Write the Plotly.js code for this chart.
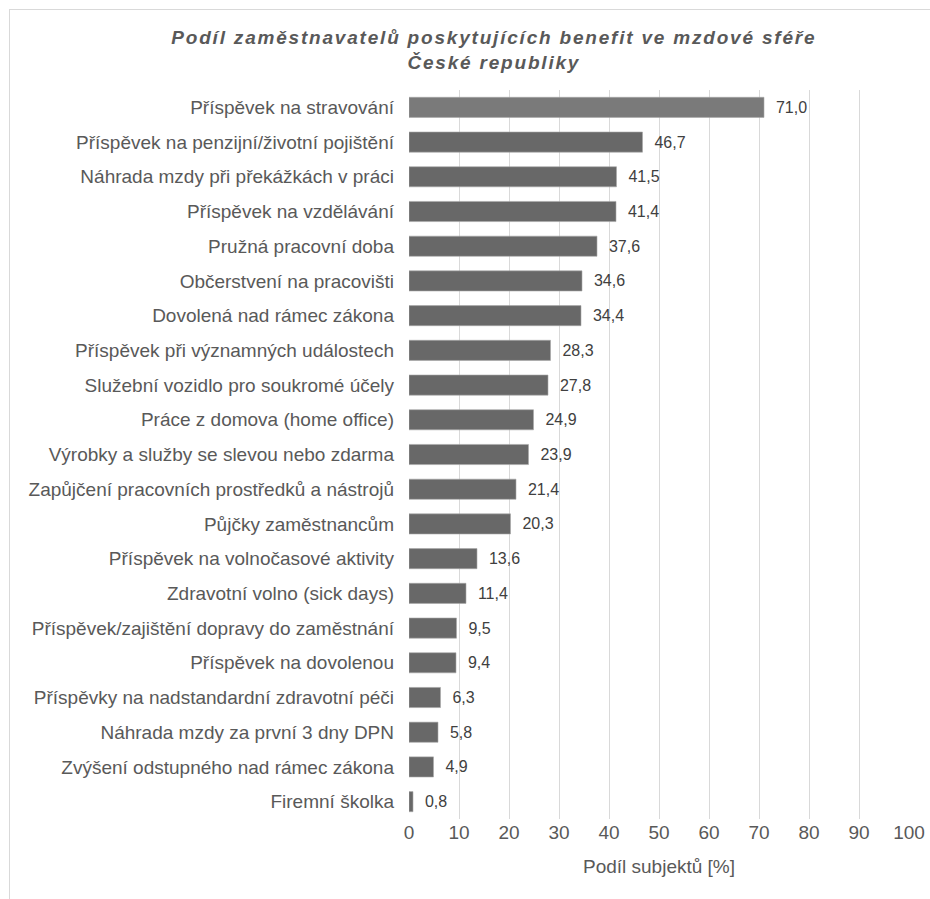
<!DOCTYPE html>
<html>
<head>
<meta charset="utf-8">
<script src="https://cdn.plot.ly/plotly-3.0.1.min.js"></script>
<style>
html,body{margin:0;padding:0;background:#fff;}
#wrap{position:relative;width:930px;height:899px;}
#chart{position:absolute;left:0;top:0;width:930px;height:899px;}
#frame{position:absolute;left:9px;top:9px;width:921px;height:890px;border-left:1px solid #d9d9d9;border-top:1px solid #d9d9d9;pointer-events:none;box-sizing:border-box;}
#chart .gtitle{letter-spacing:1.8px;}
</style>
</head>
<body>
<div id="wrap"><div id="chart"></div><div id="frame"></div></div>
<script>
const categories = [
  "Příspěvek na stravování",
  "Příspěvek na penzijní/životní pojištění",
  "Náhrada mzdy při překážkách v práci",
  "Příspěvek na vzdělávání",
  "Pružná pracovní doba",
  "Občerstvení na pracovišti",
  "Dovolená nad rámec zákona",
  "Příspěvek při významných událostech",
  "Služební vozidlo pro soukromé účely",
  "Práce z domova (home office)",
  "Výrobky a služby se slevou nebo zdarma",
  "Zapůjčení pracovních prostředků a nástrojů",
  "Půjčky zaměstnancům",
  "Příspěvek na volnočasové aktivity",
  "Zdravotní volno (sick days)",
  "Příspěvek/zajištění dopravy do zaměstnání",
  "Příspěvek na dovolenou",
  "Příspěvky na nadstandardní zdravotní péči",
  "Náhrada mzdy za první 3 dny DPN",
  "Zvýšení odstupného nad rámec zákona",
  "Firemní školka"
];
const values = [71.0, 46.7, 41.5, 41.4, 37.6, 34.6, 34.4, 28.3, 27.8, 24.9, 23.9, 21.4, 20.3, 13.6, 11.4, 9.5, 9.4, 6.3, 5.8, 4.9, 0.8];
const xTicks = [0, 10, 20, 30, 40, 50, 60, 70, 80, 90, 100];

const labels = values.map(v => "\u00a0\u00a0" + v.toFixed(1).replace(".", ","));
const colors = values.map((v, i) => i === 0 ? "#7a7a7a" : "#686868");

const FONT = "Liberation Sans, Arial, sans-serif";

const trace = {
  type: "bar",
  orientation: "h",
  x: values,
  y: categories,
  text: labels,
  textposition: "outside",
  cliponaxis: false,
  textfont: {family: FONT, size: 16, color: "#404040"},
  marker: {color: colors, line: {color: "#a8a8a8", width: 0.6}},
  width: 0.58,
  hoverinfo: "x+y"
};

const layout = {
  width: 930,
  height: 899,
  margin: {l: 409, r: 21, t: 90, b: 80},
  paper_bgcolor: "#ffffff",
  plot_bgcolor: "#ffffff",
  showlegend: false,
  font: {family: FONT, color: "#595959"},
  title: {
    text: "<b><i>Podíl zaměstnavatelů poskytujících benefit ve mzdové sféře<br>České republiky</i></b>",
    font: {family: FONT, size: 19, color: "#595959"},
    xref: "container", x: 0.531, xanchor: "center",
    yref: "container", y: 0.951, yanchor: "top"
  },
  xaxis: {
    range: [0, 100],
    tickvals: xTicks,
    ticktext: xTicks.map(String),
    showgrid: true,
    gridcolor: "#d9d9d9",
    gridwidth: 1,
    zeroline: false,
    showline: false,
    ticks: "",
    tickfont: {size: 19, color: "#595959"},
    title: {text: "Podíl subjektů [%]", font: {size: 19, color: "#595959"}, standoff: 17},
    fixedrange: true
  },
  yaxis: {
    type: "category",
    autorange: "reversed",
    showgrid: false,
    zeroline: false,
    showline: false,
    ticks: "",
    ticklabelstandoff: 14,
    tickfont: {size: 19, color: "#595959"},
    fixedrange: true
  }
};

Plotly.newPlot("chart", [trace], layout, {displayModeBar: false, staticPlot: true});
</script>
</body>
</html>
